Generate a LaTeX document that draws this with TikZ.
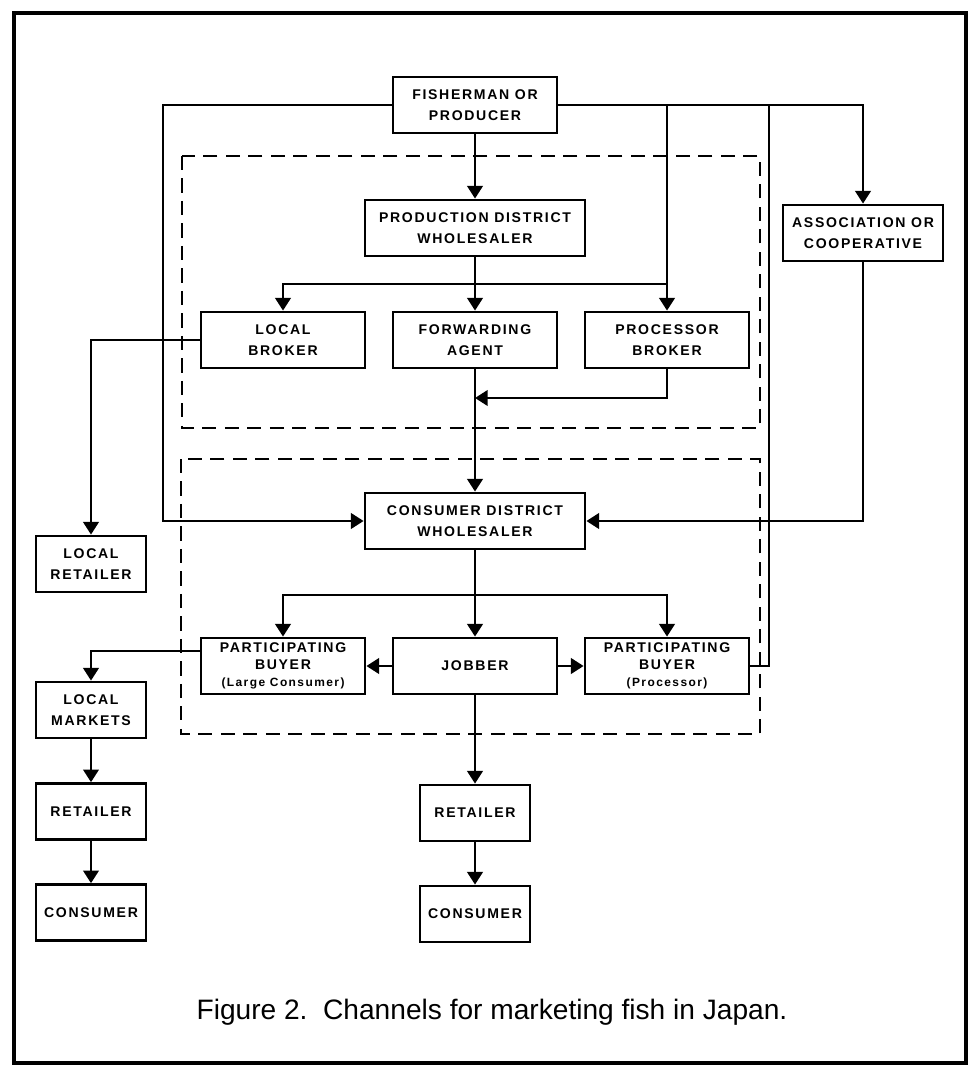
\documentclass[tikz,border=0pt]{standalone}
\usepackage{fontspec}
\setmainfont{Liberation Sans}
\newfontfamily\boxfont[LetterSpace=12]{Liberation Sans}
\newcommand\smalltag{\fontsize{8.5}{10}\selectfont}
\usetikzlibrary{arrows.meta,positioning}

\begin{document}
\begin{tikzpicture}[
    >={Triangle[length=9pt,width=11pt]}, % arrow tip style
    node distance=4.8cm,                 % spacing between columns
    line width=1.8pt,
    box/.style={draw, line width=2pt, minimum width=4.1cm, minimum height=1.4cm,
        align=center, font=\boxfont\bfseries\fontsize{10}{15}\selectfont},
    widebox/.style={box, minimum width=5.5cm},
    smallbox/.style={box, minimum width=2.75cm},
    buyer/.style={box, font=\boxfont\bfseries\fontsize{10}{12}\selectfont},
    zone/.style={line width=1.6pt, dash pattern=on 10pt off 6pt}]
    \useasboundingbox (0,0) rectangle (24.2,-26.625);
    \draw[line width=2.6pt] (0.35,-0.325) rectangle (24.15,-26.575);

    % Dashed districts
    \draw[zone] (4.55,-3.9) rectangle (19,-10.7);
    \draw[zone] (4.525,-11.475) rectangle (19,-18.35);

    % Nodes
    \node[box] (producer) at (11.875,-2.625) {FISHERMAN OR\\PRODUCER};
    \node[widebox] (prodwh) [below of=producer, node distance=3.075cm] {PRODUCTION DISTRICT\\WHOLESALER};
    \node[box] (fwd) [below of=prodwh, node distance=2.8cm] {FORWARDING\\AGENT};
    \node[box] (lbroker) [left of=fwd] {LOCAL\\BROKER};
    \node[box] (pbroker) [right of=fwd] {PROCESSOR\\BROKER};
    \node[box, minimum width=4cm] (assoc) [right of=prodwh, node distance=9.7cm, yshift=-0.125cm] {ASSOCIATION OR\\COOPERATIVE};
    \node[widebox] (cwh) [below of=fwd, node distance=4.525cm] {CONSUMER DISTRICT\\WHOLESALER};
    \node[box] (jobber) [below of=cwh, node distance=3.625cm] {JOBBER};
    \node[buyer] (buyerlc) [left of=jobber] {PARTICIPATING\\BUYER\\{\smalltag (Large Consumer)}};
    \node[buyer] (buyerproc) [right of=jobber] {PARTICIPATING\\BUYER\\{\smalltag (Processor)}};
    \node[smallbox] (retailer) [below of=jobber, node distance=3.675cm] {RETAILER};
    \node[smallbox] (consumer) [below of=retailer, node distance=2.525cm] {CONSUMER};
    \node[smallbox] (lretailer) [left of=lbroker, yshift=-5.6cm] {LOCAL\\RETAILER};
    \node[smallbox] (lmarkets) [below of=lretailer, node distance=3.65cm] {LOCAL\\MARKETS};
    \node[smallbox] (lretail2) [below of=lmarkets, node distance=2.54cm] {RETAILER};
    \node[smallbox] (lconsumer) [below of=lretail2, node distance=2.525cm] {CONSUMER};

    \node (caption) at (12.3,-25.3) {\fontsize{20}{24}\selectfont Figure 2.\ \ Channels for marketing fish in Japan.};

    % Turning points
    \coordinate (split) at (11.875,-7.1);
    \coordinate (merge) at (11.875,-9.95);
    \coordinate (split2) at (11.875,-14.875);
    \coordinate (ltrunk) at (4.075,0);
    \coordinate (rtrunk) at (19.225,0);

    % Connectors
    \draw[->] (producer) -- (prodwh);
    \draw[->] (producer.west) -| (ltrunk |- cwh) -- (cwh.west);
    \draw[->] (producer.east) -| (assoc.north);
    \draw[->] (producer.east -| pbroker) -- (pbroker.north);
    \draw (producer.east -| rtrunk) |- (buyerproc.east);
    \draw[->] (prodwh) -- (fwd);
    \draw[->] (split -| pbroker) -| (lbroker.north);
    \draw[->] (pbroker.south) |- (merge);
    \draw[->] (fwd) -- (cwh);
    \draw[->] (assoc.south) |- (cwh.east);
    \draw[->] (lbroker.west) -| (lretailer.north);
    \draw[->] (cwh) -- (jobber);
    \draw[->] (split2) -| (buyerlc.north);
    \draw[->] (split2) -| (buyerproc.north);
    \draw[->] (jobber) -- (buyerlc);
    \draw[->] (jobber) -- (buyerproc);
    \draw[->] ([yshift=0.375cm]buyerlc.west) -| (lmarkets.north);
    \draw[->] (lmarkets) -- (lretail2);
    \draw[->] (lretail2) -- (lconsumer);
    \draw[->] (jobber) -- (retailer);
    \draw[->] (retailer) -- (consumer);
\end{tikzpicture}
\end{document}
